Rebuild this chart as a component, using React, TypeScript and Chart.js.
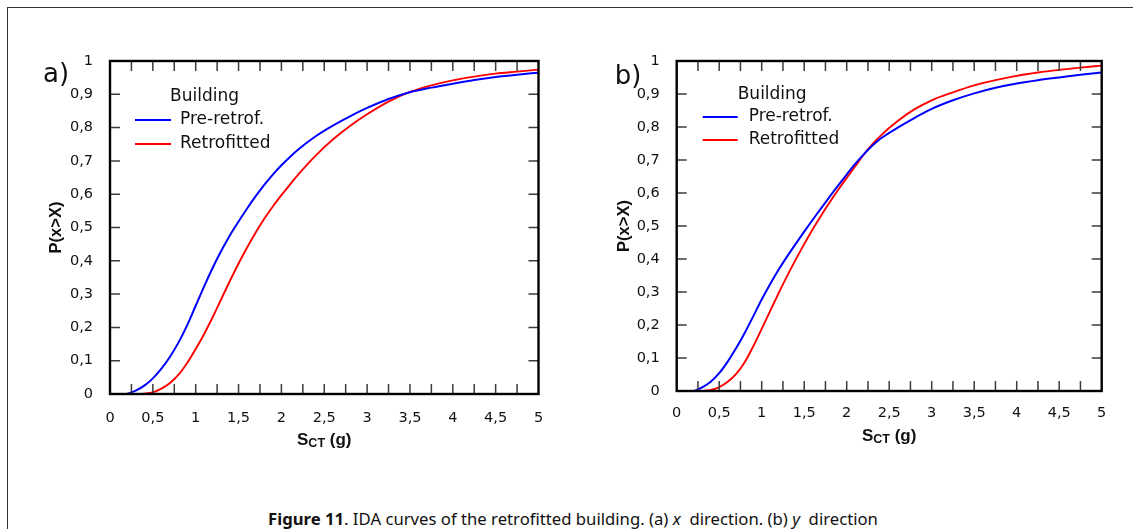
import React, { useEffect, useRef } from "react";
import { Chart, registerables } from "chart.js";

Chart.register(...registerables);

// ---------- data ----------
const aPreX = [0.2, 0.3, 0.4, 0.5, 0.6, 0.7, 0.8, 0.9, 1.0, 1.1, 1.2, 1.3, 1.4, 1.5, 1.6, 1.7, 1.8, 1.9, 2.0, 2.1, 2.2, 2.4, 2.6, 2.8, 3.0, 3.25, 3.5, 3.75, 4.0, 4.25, 4.5, 4.75, 5.0];
const aPreY = [0.0, 0.01, 0.025, 0.047, 0.076, 0.112, 0.155, 0.206, 0.265, 0.324, 0.38, 0.431, 0.477, 0.518, 0.557, 0.594, 0.628, 0.659, 0.687, 0.712, 0.735, 0.774, 0.806, 0.834, 0.859, 0.886, 0.906, 0.92, 0.932, 0.943, 0.952, 0.959, 0.965];

const aRetX = [0.35, 0.4, 0.5, 0.6, 0.7, 0.8, 0.9, 1.0, 1.1, 1.2, 1.3, 1.4, 1.5, 1.6, 1.7, 1.8, 1.9, 2.0, 2.1, 2.2, 2.3, 2.4, 2.6, 2.8, 3.0, 3.25, 3.5, 3.75, 4.0, 4.25, 4.5, 4.75, 5.0];
const aRetY = [0.0, 0.001, 0.005, 0.016, 0.033, 0.058, 0.093, 0.135, 0.181, 0.232, 0.286, 0.34, 0.392, 0.44, 0.485, 0.526, 0.563, 0.597, 0.629, 0.66, 0.689, 0.716, 0.764, 0.805, 0.84, 0.878, 0.907, 0.927, 0.942, 0.953, 0.962, 0.968, 0.974];

const bPreX = [0.2, 0.3, 0.4, 0.5, 0.6, 0.7, 0.8, 0.9, 1.0, 1.1, 1.2, 1.3, 1.4, 1.5, 1.6, 1.7, 1.8, 1.9, 2.0, 2.1, 2.2, 2.3, 2.4, 2.6, 2.8, 3.0, 3.25, 3.5, 3.75, 4.0, 4.25, 4.5, 4.75, 5.0];
const bPreY = [0.0, 0.011, 0.028, 0.054, 0.089, 0.13, 0.176, 0.226, 0.277, 0.324, 0.368, 0.408, 0.446, 0.483, 0.519, 0.554, 0.589, 0.623, 0.656, 0.688, 0.717, 0.743, 0.765, 0.798, 0.828, 0.855, 0.881, 0.902, 0.919, 0.932, 0.942, 0.95, 0.958, 0.965];

const bRetX = [0.3, 0.4, 0.5, 0.6, 0.7, 0.8, 0.9, 1.0, 1.1, 1.2, 1.3, 1.4, 1.5, 1.6, 1.7, 1.8, 1.9, 2.0, 2.1, 2.2, 2.3, 2.4, 2.6, 2.8, 3.0, 3.25, 3.5, 3.75, 4.0, 4.25, 4.5, 4.75, 5.0];
const bRetY = [0.0, 0.003, 0.012, 0.028, 0.052, 0.087, 0.135, 0.188, 0.243, 0.297, 0.349, 0.398, 0.445, 0.49, 0.532, 0.572, 0.61, 0.646, 0.681, 0.716, 0.747, 0.774, 0.818, 0.854, 0.881, 0.905, 0.926, 0.942, 0.955, 0.965, 0.973, 0.98, 0.986];

const xTickValues = [0, 0.5, 1, 1.5, 2, 2.5, 3, 3.5, 4, 4.5, 5];
const xTickLabels = ["0", "0,5", "1", "1,5", "2", "2,5", "3", "3,5", "4", "4,5", "5"];
const yTickValues = [0, 0.1, 0.2, 0.3, 0.4, 0.5, 0.6, 0.7, 0.8, 0.9, 1];
const yTickLabels = ["0", "0,1", "0,2", "0,3", "0,4", "0,5", "0,6", "0,7", "0,8", "0,9", "1"];
const xMinorTicks = [0.25, 0.5, 0.75, 1, 1.25, 1.5, 1.75, 2, 2.25, 2.5, 2.75, 3, 3.25, 3.5, 3.75, 4, 4.25, 4.5, 4.75];
const yMinorTicks = [0.1, 0.2, 0.3, 0.4, 0.5, 0.6, 0.7, 0.8, 0.9];

const seriesNames = ["Pre-retrof.", "Retrofitted"];
const seriesColors = ["#0000ff", "#ff0000"];
const legendTitle = "Building";
const yTitle = "P(x>X)";
const xTitleMain = "S";
const xTitleSub = "CT";
const xTitleRest = " (g)";

// ---------- styles ----------
const TICK_FONT = '"DejaVu Sans", sans-serif';
const TITLE_FONT = '"Liberation Sans", Arial, sans-serif';

type Area = { left: number; top: number; right: number; bottom: number };

type PanelProps = {
  left: number;
  width: number;
  height: number;
  area: Area;
  label: string;
  preX: number[];
  preY: number[];
  retX: number[];
  retY: number[];
  labelOff: { dx: number; dy: number };
  legOff: { titleX: number; titleY: number; lineX0: number; lineX1: number; textX: number; row1: number; row2: number };
  yTitleOff: number;
  xTitleOff: number;
  xLabelPad: number;
};

function Panel(p: PanelProps) {
  const ref = useRef<HTMLCanvasElement | null>(null);

  useEffect(() => {
    const canvas = ref.current;
    if (!canvas) return;
    const XH = 40;
    const a = p.area;

    const decor = {
      id: "decor",
      afterDraw(chart: any) {
        const ctx = chart.ctx as CanvasRenderingContext2D;
        const ca = chart.chartArea;
        const xs = chart.scales.x;
        const ys = chart.scales.y;
        ctx.save();
        // inward ticks
        const TL = 10;
        ctx.strokeStyle = "#3c3c3c";
        ctx.lineWidth = 1.5;
        ctx.beginPath();
        for (const v of xMinorTicks) {
          const px = xs.getPixelForValue(v);
          ctx.moveTo(px, ca.bottom);
          ctx.lineTo(px, ca.bottom - TL);
          ctx.moveTo(px, ca.top);
          ctx.lineTo(px, ca.top + TL);
        }
        for (const v of yMinorTicks) {
          const py = ys.getPixelForValue(v);
          ctx.moveTo(ca.left, py);
          ctx.lineTo(ca.left + TL, py);
          ctx.moveTo(ca.right, py);
          ctx.lineTo(ca.right - TL, py);
        }
        ctx.stroke();
        // frame
        ctx.strokeStyle = "#000";
        ctx.lineWidth = 2.4;
        ctx.strokeRect(ca.left, ca.top, ca.right - ca.left, ca.bottom - ca.top);

        ctx.fillStyle = "#111";
        // panel label
        ctx.font = `26px ${TICK_FONT}`;
        ctx.textAlign = "left";
        ctx.textBaseline = "middle";
        ctx.fillText(p.label, ca.left + p.labelOff.dx, ca.top + p.labelOff.dy);

        // legend
        const L = p.legOff;
        ctx.font = `17px ${TICK_FONT}`;
        ctx.fillText(legendTitle, ca.left + L.titleX, ca.top + L.titleY);
        const rows = [L.row1, L.row2];
        for (let i = 0; i < seriesNames.length; i++) {
          const yy = ca.top + rows[i];
          ctx.strokeStyle = seriesColors[i];
          ctx.lineWidth = 2;
          ctx.beginPath();
          ctx.moveTo(ca.left + L.lineX0, yy);
          ctx.lineTo(ca.left + L.lineX1, yy);
          ctx.stroke();
          ctx.fillText(seriesNames[i], ca.left + L.textX, yy);
        }

        // y title
        ctx.save();
        ctx.font = `bold 16.5px ${TITLE_FONT}`;
        ctx.translate(ca.left - p.yTitleOff, (ca.top + ca.bottom) / 2);
        ctx.rotate(-Math.PI / 2);
        ctx.textAlign = "center";
        ctx.textBaseline = "middle";
        ctx.fillText(yTitle, 0, 0);
        ctx.restore();

        // x title with subscript
        const mainFont = `bold 17px ${TITLE_FONT}`;
        const subFont = `bold 12.5px ${TITLE_FONT}`;
        ctx.font = mainFont;
        const w1 = ctx.measureText(xTitleMain).width;
        const w3 = ctx.measureText(xTitleRest).width;
        ctx.font = subFont;
        const w2 = ctx.measureText(xTitleSub).width;
        const total = w1 + w2 + w3;
        let cx = (ca.left + ca.right) / 2 - total / 2;
        const cy = ca.bottom + p.xTitleOff;
        ctx.textAlign = "left";
        ctx.textBaseline = "middle";
        ctx.font = mainFont;
        ctx.fillText(xTitleMain, cx, cy);
        cx += w1;
        ctx.font = subFont;
        ctx.fillText(xTitleSub, cx, cy + 3.5);
        cx += w2;
        ctx.font = mainFont;
        ctx.fillText(xTitleRest, cx, cy);
        ctx.restore();
      },
    };

    const chart = new Chart(canvas, {
      type: "line",
      data: {
        datasets: [
          {
            label: seriesNames[0],
            data: p.preX.map((x, i) => ({ x, y: p.preY[i] })),
            borderColor: seriesColors[0],
            borderWidth: 2,
            pointRadius: 0,
            fill: false,
            cubicInterpolationMode: "monotone",
          },
          {
            label: seriesNames[1],
            data: p.retX.map((x, i) => ({ x, y: p.retY[i] })),
            borderColor: seriesColors[1],
            borderWidth: 1.9,
            pointRadius: 0,
            fill: false,
            cubicInterpolationMode: "monotone",
          },
        ],
      },
      options: {
        animation: false,
        responsive: false,
        maintainAspectRatio: false,
        events: [],
        layout: {
          autoPadding: false,
          padding: {
            left: 0,
            top: a.top,
            right: p.width - a.right,
            bottom: p.height - a.bottom - XH,
          },
        },
        plugins: {
          legend: { display: false },
          tooltip: { enabled: false },
          title: { display: false },
        },
        scales: {
          x: {
            type: "linear",
            min: 0,
            max: 5,
            afterFit: (s: any) => {
              s.height = XH;
            },
            afterBuildTicks: (s: any) => {
              s.ticks = xTickValues.map((v) => ({ value: v }));
            },
            grid: { display: false },
            border: { display: false },
            ticks: {
              autoSkip: false,
              maxRotation: 0,
              padding: p.xLabelPad,
              color: "#111",
              font: { family: TICK_FONT, size: 14.5 },
              callback: (v: any) => xTickLabels[xTickValues.indexOf(Number(v))] ?? "",
            },
          },
          y: {
            type: "linear",
            min: 0,
            max: 1,
            afterFit: (s: any) => {
              s.width = a.left;
            },
            afterBuildTicks: (s: any) => {
              s.ticks = yTickValues.map((v) => ({ value: v }));
            },
            grid: { display: false },
            border: { display: false },
            ticks: {
              autoSkip: false,
              padding: 9,
              color: "#111",
              font: { family: TICK_FONT, size: 14.5 },
              callback: (v: any) => yTickLabels[yTickValues.indexOf(Number(v))] ?? "",
            },
          },
        },
      },
      plugins: [decor],
    } as any);

    return () => chart.destroy();
  }, []);

  return (
    <canvas
      ref={ref}
      width={p.width}
      height={p.height}
      style={{ position: "absolute", left: p.left, top: 0, width: p.width, height: p.height }}
    />
  );
}

export default function App() {
  return (
    <div
      style={{
        position: "absolute",
        left: 0,
        top: 0,
        width: 1133,
        height: 529,
        overflow: "hidden",
        background: "#fff",
      }}
    >
      <div
        style={{
          position: "absolute",
          left: 7,
          top: 7,
          width: 1200,
          height: 600,
          borderTop: "1px solid #333",
          borderLeft: "1px solid #333",
        }}
      />
      <Panel
        left={0}
        width={566}
        height={470}
        area={{ left: 110, top: 61, right: 538.5, bottom: 394 }}
        label="a)"
        preX={aPreX}
        preY={aPreY}
        retX={aRetX}
        retY={aRetY}
        labelOff={{ dx: -67, dy: 14 }}
        legOff={{ titleX: 60, titleY: 36, lineX0: 25, lineX1: 61, textX: 70, row1: 59, row2: 83 }}
        yTitleOff={53.5}
        xTitleOff={46}
        xLabelPad={8}
      />
      <Panel
        left={566}
        width={567}
        height={470}
        area={{ left: 110.7, top: 61, right: 535.7, bottom: 391 }}
        label="b)"
        preX={bPreX}
        preY={bPreY}
        retX={bRetX}
        retY={bRetY}
        labelOff={{ dx: -62, dy: 16 }}
        legOff={{ titleX: 61, titleY: 34, lineX0: 26, lineX1: 61, textX: 72, row1: 56, row2: 79 }}
        yTitleOff={52.7}
        xTitleOff={45}
        xLabelPad={6}
      />
      <div
        style={{
          position: "absolute",
          left: 268,
          top: 509,
          whiteSpace: "nowrap",
          fontFamily: '"Noto Sans", sans-serif',
          fontSize: 16.7,
          lineHeight: "20px",
          color: "#111",
        }}
      >
        <b>Figure 11</b>. IDA curves of the retrofitted building. (a) <i>x</i>&nbsp; direction. (b) <i>y</i>&nbsp; direction
      </div>
    </div>
  );
}
